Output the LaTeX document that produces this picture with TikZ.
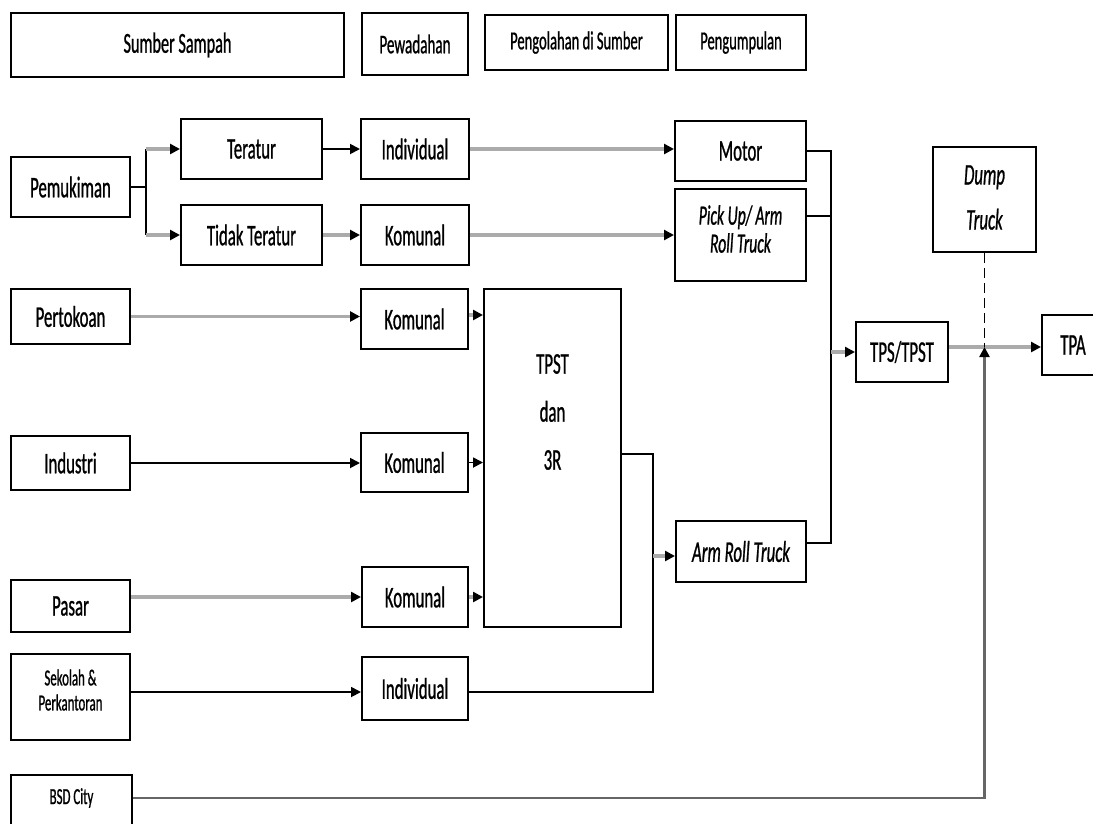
\documentclass[tikz,border=0pt]{standalone}
\usepackage{fontspec}
\setmainfont{Carlito}[FakeStretch=0.56, FakeBold=0.8]
\usetikzlibrary{arrows.meta,calc}
\tikzset{
  box/.style={draw=black, line width=2pt, inner sep=0pt, align=center,
    font=\fontsize{30}{32}\selectfont},
  hdr/.style={box, font=\fontsize{27}{29}\selectfont},
  small/.style={font=\fontsize{23}{25}\selectfont, align=center, inner sep=0pt},
  txt/.style={font=\fontsize{30}{32}\selectfont, align=center, inner sep=0pt},
  blk/.style={draw=black, line width=1.8pt},
  gry/.style={draw=black!33, line width=3.4pt},
  dgry/.style={draw=black!60, line width=2.4pt},
  tip/.style={-{Triangle[length=10pt,width=10pt,color=black]}},
}
\begin{document}
\begin{tikzpicture}[x=1pt,y=-1pt]
\useasboundingbox (0,0) rectangle (1093,823);
\fill[white] (0,0) rectangle (1093,823);
\clip (0,0) rectangle (1093,823);
% header
\node[box, font=\fontsize{29}{31}\selectfont, minimum width=333pt, minimum height=64pt] (h1) at (177.5,45) {Sumber Sampah};
\node[hdr, minimum width=106pt, minimum height=62pt] (h2) at (415,44) {Pewadahan};
\node[hdr, font=\fontsize{26}{28}\selectfont, minimum width=183pt, minimum height=55pt] (h3) at (576.5,42.5) {Pengolahan di Sumber};
\node[hdr, font=\fontsize{26}{28}\selectfont, minimum width=130pt, minimum height=55pt] (h4) at (741,42.5) {Pengumpulan};
% sources
\node[box, minimum width=119pt, minimum height=60pt] (pem) at (70.5,187) {Pemukiman};
\node[box, minimum width=119pt, minimum height=55pt] (pert) at (70.5,316.5) {Pertokoan};
\node[box, minimum width=119pt, minimum height=54pt] (indu) at (70.5,463) {Industri};
\node[box, minimum width=119pt, minimum height=52pt] (pasar) at (70.5,606) {Pasar};
\node[box, minimum width=119pt, minimum height=86pt] (sek) at (70.5,697) {};
\node[small] (sekt) at (70.5,690) {Sekolah \&\\Perkantoran};
\node[box, minimum width=121pt, minimum height=70pt] (bsd) at (71.5,810) {};
\node[small] (bsdt) at (71.5,798) {BSD City};
% middle
\node[box, minimum width=141pt, minimum height=60pt] (ter) at (251.5,149) {Teratur};
\node[box, minimum width=141pt, minimum height=60pt] (tid) at (251.5,235) {Tidak Teratur};
\node[box, minimum width=108pt, minimum height=60pt] (ind1) at (415,149) {Individual};
\node[box, minimum width=108pt, minimum height=60pt] (kom0) at (415,235) {Komunal};
\node[box, minimum width=107pt, minimum height=60pt] (kom1) at (414.5,319) {Komunal};
\node[box, minimum width=107pt, minimum height=59pt] (kom2) at (414.5,462.5) {Komunal};
\node[box, minimum width=106pt, minimum height=60pt] (kom3) at (415,597) {Komunal};
\node[box, minimum width=106pt, minimum height=63pt] (ind2) at (415,688.5) {Individual};
\node[box, minimum width=137pt, minimum height=338pt] (tpst) at (552.5,458) {};
\node[txt] (tpstt) at (552.5,412) {TPST\\[16pt]dan\\[16pt]3R};
% collection
\node[box, minimum width=131pt, minimum height=60pt] (motor) at (740.5,151) {Motor};
\node[box, minimum width=131pt, minimum height=92pt] (pick) at (740.5,235) {};
\node[txt, font=\fontsize{28}{28}\selectfont\itshape] (pickt) at (740.5,229) {Pick Up/ Arm\\Roll Truck};
\node[box, minimum width=130pt, minimum height=61pt, font=\fontsize{30}{32}\selectfont\itshape] (arm) at (741,551.5) {Arm Roll Truck};
\node[box, minimum width=103pt, minimum height=105pt] (dump) at (984.5,199.5) {};
\node[txt, font=\fontsize{30}{32}\selectfont\itshape] (dumpt) at (984.5,197.5) {Dump\\[13pt]Truck};
\node[box, minimum width=92pt, minimum height=60pt] (tps) at (902,352) {TPS/TPST};
\node[box, minimum width=62pt, minimum height=60pt] (tpa) at (1073,345) {TPA};
% coordinates
\coordinate (br) at (146,187);
\coordinate (bx) at (831,0);
\coordinate (b2) at (653,0);
\coordinate (j) at ($(dump.south |- tps.east)+(0,-5)$);
\coordinate (armout) at ([yshift=8.5]arm.east);
\coordinate (armin) at ([yshift=-4.5]arm.west);
\coordinate (pickout) at ([yshift=19]pick.east);
\coordinate (tpstout) at ([yshift=4]tpst.east);
\coordinate (ind2out) at ([yshift=-3.5]ind2.east);
\coordinate (tpsout) at ([yshift=5]tps.east);
\coordinate (kom1out) at ([yshift=4]kom1.east);
\coordinate (pasarout) at ([yshift=9]pasar.east);
\coordinate (sekout) at ([yshift=5]sek.east);
\coordinate (bsdout) at (bsdt.east -| bsd.east);
% connectors: Pemukiman
\draw[blk] (pem.east) -- (br);
\draw[blk] (br |- ter.west) -- (br |- tid.west);
\draw[gry,tip] (br |- ter.west) -- (ter.west);
\draw[gry,tip] (br |- tid.west) -- (tid.west);
\draw[blk,tip] (ter) -- (ind1);
\draw[gry,tip] (tid) -- (kom0);
\draw[gry,tip] (ind1.east) -- (ind1.east -| motor.west);
\draw[gry,tip] (kom0.east) -- (kom0.east -| pick.west);
% right bus
\draw[blk] (motor.east) -| (bx |- armout) -- (armout);
\draw[blk] (pickout) -- (bx |- pickout);
\draw[gry,tip] (bx |- tps.west) -- (tps.west);
\draw[gry,tip] (tpsout) -- (tpsout -| tpa.west);
\draw[blk,dash pattern=on 10pt off 5pt] (dump.south) -- (j);
% sources to TPST
\draw[gry,tip] (pert.east) -- (pert.east -| kom1.west);
\draw[gry,tip] (kom1out) -- (kom1out -| tpst.west);
\draw[blk,tip] (indu.east) -- (indu.east -| kom2.west);
\draw[blk,tip] (kom2.east) -- (kom2.east -| tpst.west);
\draw[gry,tip] (pasarout) -- (pasarout -| kom3.west);
\draw[gry,tip] (kom3.east) -- (kom3.east -| tpst.west);
\draw[blk,tip] (sekout) -- (sekout -| ind2.west);
% TPST bus to Arm Roll Truck
\draw[blk] (tpstout) -| (b2 |- ind2out) -- (ind2out);
\draw[gry,tip] (b2 |- armin) -- (armin);
% BSD City
\draw[dgry,tip] (bsdout) -| (j);
\end{tikzpicture}
\end{document}
